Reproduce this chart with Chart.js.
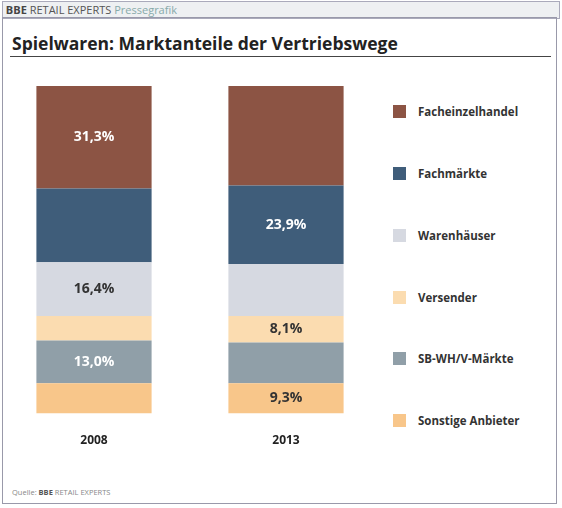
<!DOCTYPE html>
<html><head><meta charset="utf-8">
<script src="https://cdn.jsdelivr.net/npm/chart.js@4"></script>
<style>
body{margin:0;width:562px;height:508px;background:#fff;font-family:"Open Sans",sans-serif;position:relative;overflow:hidden}
#hdr{position:absolute;left:2px;top:1px;width:556px;height:16px;background:#eef0f2;border:1px solid #aab;font-size:11px;line-height:16px;color:#555}
#frame{position:absolute;left:2px;top:17px;width:555px;height:487px;border:1px solid #99a;box-sizing:border-box}
#title{position:absolute;left:12px;top:31px;font-size:17.5px;font-weight:bold;color:#222}
#tline{position:absolute;left:10px;top:56px;width:541px;height:1px;background:#444}
#src{position:absolute;left:12px;top:487px;font-size:7.5px;color:#888}
#wrap{position:absolute;left:-2px;top:86px;width:384px;height:374px}
.lg{position:absolute;left:393px;font-size:11.5px;font-weight:bold;color:#333;white-space:nowrap}
.lg span{display:inline-block;width:13px;height:13px;vertical-align:-2px;margin-right:12px}
</style></head><body>
<div id="hdr">&nbsp;<b style="color:#444">BBE</b> RETAIL EXPERTS <span style="color:#8aa">Pressegrafik</span></div>
<div id="frame"></div>
<div id="title">Spielwaren: Marktanteile der Vertriebswege</div>
<div id="tline"></div>
<div id="src">Quelle: <b style="color:#555">BBE</b> RETAIL EXPERTS</div>
<div id="wrap"><canvas id="c"></canvas></div>
<div id="legend"></div>
<script>
const years=["2008","2013"];
const channels=["Facheinzelhandel","Fachmärkte","Warenhäuser","Versender","SB-WH/V-Märkte","Sonstige Anbieter"];
const colors=["#8c5444","#3f5d7a","#d6d9e1","#fbdcb0","#909fa8","#f8c68a"];
const fach=[31.3,30.4];
const fachm=[22.5,23.9];
const waren=[16.4,15.9];
const versender=[7.5,8.1];
const sbwh=[13.0,12.4];
const sonstige=[9.3,9.3];
const shown=[[true,false],[false,true],[true,false],[false,true],[true,false],[false,true]];
const labelColors=["#fff","#fff","#333","#333","#fff","#333"];
const values=[fach,fachm,waren,versender,sbwh,sonstige];
const lg=document.getElementById('legend');
const lgY=[104,166,228,290,351,413];
channels.forEach((n,i)=>{const d=document.createElement('div');d.className='lg';d.style.top=lgY[i]+'px';d.innerHTML='<span style="background:'+colors[i]+'"></span>'+n;lg.appendChild(d);});
const datasets=[];
for(let i=5;i>=0;i--){datasets.push({label:channels[i],data:values[i],backgroundColor:colors[i],idx:i,categoryPercentage:1,barPercentage:0.6});}
const lblPlugin={id:'lbl',afterDatasetsDraw(ch){const ctx=ch.ctx;ctx.save();ctx.font='bold 14px "Open Sans"';ctx.textAlign='center';ctx.textBaseline='middle';
ch.data.datasets.forEach((ds,di)=>{ch.getDatasetMeta(di).data.forEach((b,j)=>{if(shown[ds.idx][j]){ctx.fillStyle=labelColors[ds.idx];ctx.fillText(ds.data[j].toFixed(1).replace('.',',')+'%',b.x,(b.y+b.base)/2);}});});ctx.restore();}};
new Chart(document.getElementById('c'),{type:'bar',data:{labels:years,datasets},plugins:[lblPlugin],
options:{responsive:true,maintainAspectRatio:false,animation:false,layout:{padding:0},
plugins:{legend:{display:false},tooltip:{enabled:false}},
scales:{x:{stacked:true,grid:{display:false},border:{display:false},ticks:{color:'#222',font:{family:'Open Sans',weight:'bold',size:12},padding:12}},
y:{stacked:true,display:false,min:0,max:100}}}});
</script></body></html>
